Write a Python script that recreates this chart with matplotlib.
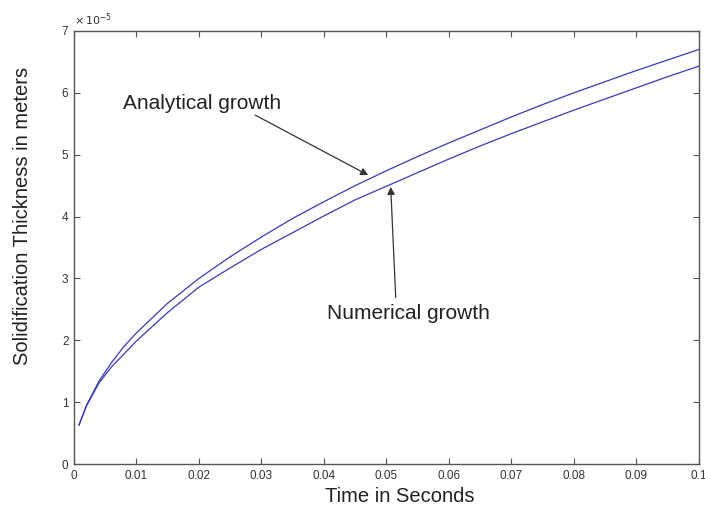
import matplotlib
matplotlib.use("Agg")
import matplotlib.pyplot as plt

# values (thickness in units of 1e-5 m)
t_s = [0.0008, 0.002, 0.004, 0.006, 0.008, 0.010, 0.015, 0.020, 0.025, 0.030,
       0.035, 0.040, 0.045, 0.050, 0.055, 0.060, 0.065, 0.070, 0.075, 0.080,
       0.085, 0.090, 0.095, 0.100]
analytical = [0.63, 0.95, 1.34, 1.64, 1.90, 2.12, 2.60, 3.00, 3.35, 3.67,
              3.97, 4.24, 4.50, 4.74, 4.97, 5.19, 5.40, 5.61, 5.81, 6.00,
              6.18, 6.36, 6.53, 6.70]
numerical = [0.63, 0.94, 1.31, 1.57, 1.78, 1.99, 2.45, 2.86, 3.17, 3.47,
             3.74, 4.01, 4.27, 4.49, 4.71, 4.93, 5.14, 5.34, 5.53, 5.72,
             5.90, 6.08, 6.26, 6.43]
xticks = [0, 0.01, 0.02, 0.03, 0.04, 0.05, 0.06, 0.07, 0.08, 0.09, 0.1]
xticklabels = ["0", "0.01", "0.02", "0.03", "0.04", "0.05", "0.06", "0.07", "0.08", "0.09", "0.1"]
yticks = [0, 1, 2, 3, 4, 5, 6, 7]

LINE = "#3a3ab4"; EDGE = "#555555"; TXT = "#222222"
plt.rcParams.update({"font.family": ["Liberation Sans", "DejaVu Sans"]})

fig = plt.figure(figsize=(7.05, 5.08), dpi=100)
ax = fig.add_axes([0.105, 0.0866, 0.886, 0.8524])
ax.plot(t_s, analytical, color=LINE, lw=0.9)
ax.plot(t_s, numerical, color=LINE, lw=0.9)

ax.set_xlim(0, 0.1); ax.set_ylim(0, 7)
ax.set_xticks(xticks); ax.set_xticklabels(xticklabels)
ax.set_yticks(yticks)
ax.tick_params(direction="in", length=4, width=0.8, color=EDGE, labelsize=8.5,
               labelcolor="#333333", top=True, right=True, pad=4)
for s in ax.spines.values():
    s.set_color(EDGE); s.set_linewidth(1.0)

ax.text(0.0, 1.008, r"$\times\,10^{-5}$", transform=ax.transAxes, fontsize=8,
        color="#333333", ha="left", va="bottom")

ax.set_xlabel("Time in Seconds", fontsize=14.5, color=TXT)
ax.xaxis.set_label_coords(0.522, -0.052)
ax.set_ylabel("Solidification Thickness in meters", fontsize=14.5, color=TXT)
ax.yaxis.set_label_coords(-0.068, 0.573)

arrow = dict(arrowstyle="-|>", color="#333333", lw=0.9, mutation_scale=11, shrinkA=0, shrinkB=0)
ax.annotate("", xy=(0.0471, 4.67), xytext=(0.0290, 5.64), arrowprops=arrow)
ax.text(0.0078, 5.83, "Analytical growth", fontsize=15, color=TXT, ha="left", va="center")
ax.annotate("", xy=(0.0507, 4.48), xytext=(0.0515, 2.69), arrowprops=arrow)
ax.text(0.0405, 2.44, "Numerical growth", fontsize=15, color=TXT, ha="left", va="center")

fig.savefig("out.png", dpi=100)
